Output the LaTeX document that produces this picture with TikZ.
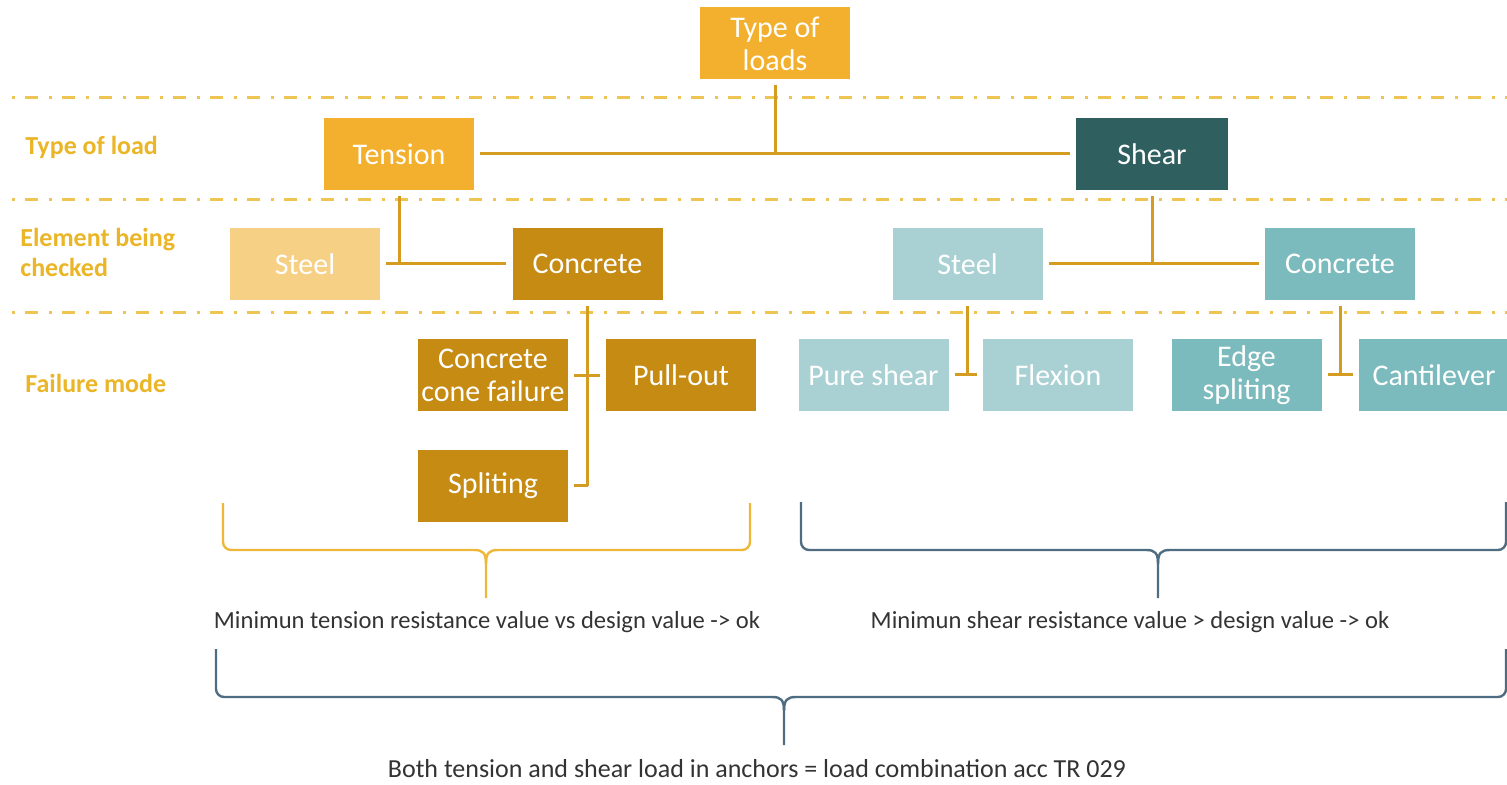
\documentclass[tikz,border=0pt]{standalone}
\usepackage{fontspec}
\setmainfont{Carlito}
\usepackage{tikz}
\usetikzlibrary{positioning}
\definecolor{loadgold}{HTML}{F2B02E}
\definecolor{sheardark}{HTML}{2F5F5F}
\definecolor{steelpale}{HTML}{F6D085}
\definecolor{concdark}{HTML}{C58B12}
\definecolor{tealpale}{HTML}{A9D1D4}
\definecolor{tealmid}{HTML}{7BBABD}
\definecolor{linkgold}{HTML}{D59C22}
\definecolor{tiergold}{HTML}{EEC452}
\definecolor{labelgold}{HTML}{EAB526}
\definecolor{bracegold}{HTML}{EDB73A}
\definecolor{braceblue}{HTML}{4F6D82}
\tikzset{loadbox/.style = {rectangle, minimum width=75pt, minimum height=36pt,
                           inner sep=0pt, align=center, text=white,
                           font=\fontsize{15}{16.5}\selectfont},
         link/.style = {draw=linkgold, line width=1.5pt},
         tierline/.style = {draw=tiergold, line width=1.5pt,
                            dash pattern=on 1.5pt off 5pt on 6.5pt off 5.5pt},
         rowlabel/.style = {anchor=west, align=left, text=labelgold, inner sep=0pt,
                            font=\bfseries\fontsize{13}{15}\selectfont},
         verdict/.style = {inner sep=0pt, text=black!80,
                           font=\fontsize{12.3}{14}\selectfont}}
\newcommand{\groupbrace}[7]{%
  \draw [#1, line width=1.2pt, line join=round]
    (#2,#4) -- (#2,#5-8) to[out=-90, in=180] (#2+8,#5) -- (#6-12,#5)
    .. controls (#6-3,#5) and (#6,#5+3) .. (#6,#5+14) -- (#6,#7);
  \draw [#1, line width=1.2pt, line join=round]
    (#3,#4) -- (#3,#5-8) to[out=-90, in=0] (#3-8,#5) -- (#6+12,#5)
    .. controls (#6+3,#5) and (#6,#5+3) .. (#6,#5+14);}

\begin{document}
\begin{tikzpicture}[x=0.5pt, y=-0.5pt]
      \useasboundingbox (0, 0) rectangle (1507, 785);

      \draw [tierline] (12, 98) -- (1507, 98);
      \draw [tierline] (12, 200) -- (1507, 200);
      \draw [tierline] (12, 313) -- (1507, 313);

      \node [rowlabel] (lbltype) at (25, 147) {Type of load};
      \node [rowlabel] (lblelem) at (20, 252) {Element being\\checked};
      \node [rowlabel] (lblfail) at (25, 383) {Failure mode};

      \node [loadbox, fill=loadgold] (loads) at (775, 43.5) {Type of\\loads};
      \node [loadbox, fill=loadgold] (tension) at (399, 154) {Tension};
      \node [loadbox, fill=sheardark, minimum width=76pt] (shear) at (1152, 154) {Shear};

      \node [loadbox, fill=steelpale] (steelT) at (305, 264) {Steel};
      \node [loadbox, fill=concdark] (concT) at (587.5, 264) {Concrete};
      \node [loadbox, fill=tealpale] (steelS) at (967.5, 264) {Steel};
      \node [loadbox, fill=tealmid] (concS) at (1340, 264) {Concrete};

      \node [loadbox, fill=concdark] (cone) at (493, 375.5) {Concrete\\cone failure};
      \node [loadbox, fill=concdark] (pull) at (681, 375.5) {Pull-out};
      \node [loadbox, fill=concdark] (split) at (493, 485.5) {Spliting};
      \node [loadbox, fill=tealpale] (pure) at (873.5, 375) {Pure shear};
      \node [loadbox, fill=tealpale] (flex) at (1058, 375) {Flexion};
      \node [loadbox, fill=tealmid] (edge) at (1246.5, 375) {Edge\\spliting};
      \node [loadbox, fill=tealmid] (cant) at (1434, 375) {Cantilever};

      \draw [link, shorten <=2.5pt] (loads.south) -- (loads.south |- tension.east);
      \draw [link, shorten <=3pt, shorten >=3pt] (tension.east) -- (shear.west);

      \draw [link, shorten <=3pt] (tension.south) -- (tension.south |- steelT.east);
      \draw [link, shorten <=3pt, shorten >=3pt] (steelT.east) -- (concT.west);
      \draw [link, shorten <=3pt] (shear.south) -- (shear.south |- steelS.east);
      \draw [link, shorten <=3pt, shorten >=3pt] (steelS.east) -- (concS.west);

      \draw [link, shorten <=3pt] (concT.south) -- (concT.south |- split.east);
      \draw [link, shorten <=3pt] (split.east) -- (concT.south |- split.east);
      \draw [link, shorten <=3pt, shorten >=3pt] (cone.east) -- (pull.west);

      \draw [link, shorten <=3pt] (steelS.south) -- (steelS.south |- pure.east);
      \draw [link, shorten <=3pt, shorten >=3pt] (pure.east) -- (flex.west);
      \draw [link, shorten <=3pt] (concS.south) -- (concS.south |- edge.east);
      \draw [link, shorten <=3pt, shorten >=3pt] (edge.east) -- (cant.west);

      \groupbrace{bracegold}{223}{750}{503}{550}{486}{598}
      \groupbrace{braceblue}{801}{1506}{502}{550}{1158}{598}
      \groupbrace{braceblue}{216}{1506}{649}{697}{784}{745}

      \node [verdict] (tensionok) at (487, 622) {Minimun tension resistance value vs design value -> ok};
      \node [verdict] (shearok) at (1130, 622) {Minimun shear resistance value > design value -> ok};
      \node [verdict, font=\fontsize{13}{15}\selectfont] (combined) at (757, 769) {Both tension and shear load in anchors = load combination acc TR 029};
    \end{tikzpicture}
\end{document}
